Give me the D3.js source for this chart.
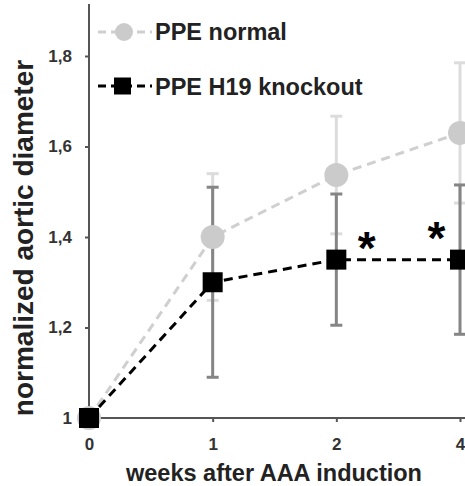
<!DOCTYPE html>
<html><head><meta charset="utf-8">
<script src="https://cdn.jsdelivr.net/npm/d3@7"></script>
<style>body{margin:0;background:#fff}svg{display:block}</style>
</head><body><svg width="465" height="486"></svg>
<script>
const weeks = ["0","1","2","4"];
const normalMean = [1, 1.40, 1.537, 1.63];
const normalErr = [0, 0.14, 0.13, 0.155];
const koMean = [1, 1.30, 1.35, 1.35];
const koErr = [0, 0.21, 0.145, 0.165];
const yTicks = [1, 1.2, 1.4, 1.6, 1.8];
const stars = [{week:"2", offset:0.245, y:1.398}, {week:"4", offset:-0.19, y:1.42}];

const svg = d3.select("svg");
const x = d3.scalePoint().domain(weeks).range([89, 460]);
const y = d3.scaleLinear().domain([1, 1.8]).range([418, 56]);
const step = x.step();
const fmt = d => d === 1 ? "1" : d3.format(".1f")(d).replace(".", ",");
const FF = "Liberation Sans, Arial, sans-serif";

// axes
const axisCol = "#555";
const yAx = svg.append("g").attr("transform","translate(89,0)")
  .call(d3.axisLeft(y).tickValues(yTicks).tickFormat(fmt).tickSize(4).tickPadding(13));
yAx.select(".domain").remove();
svg.append("line").attr("x1",89).attr("x2",89).attr("y1",y(1.915)).attr("y2",y(1))
  .attr("stroke",axisCol).attr("stroke-width",2);
const xAx = svg.append("g").attr("transform","translate(0,418)")
  .call(d3.axisBottom(x).tickSize(4).tickPadding(16));
xAx.select(".domain").remove();
svg.append("line").attr("x1",89).attr("x2",465).attr("y1",418).attr("y2",418)
  .attr("stroke",axisCol).attr("stroke-width",2);
svg.selectAll(".tick line").attr("stroke",axisCol).attr("stroke-width",2);
svg.selectAll(".tick text").attr("font-family",FF)
  .attr("font-weight","bold").attr("font-size",17).attr("fill","#333");

// error bars
function errBars(mean, err, col, w) {
  const g = svg.append("g").attr("stroke",col).attr("stroke-width",w);
  weeks.forEach((k,i) => {
    if (!err[i]) return;
    const cx = x(k), t = y(mean[i]+err[i]), b = y(mean[i]-err[i]);
    g.append("line").attr("x1",cx).attr("x2",cx).attr("y1",t).attr("y2",b);
    g.append("line").attr("x1",cx-6).attr("x2",cx+6).attr("y1",t).attr("y2",t);
    g.append("line").attr("x1",cx-6).attr("x2",cx+6).attr("y1",b).attr("y2",b);
  });
}
errBars(normalMean, normalErr, "#dcdcdc", 3);
errBars(koMean, koErr, "#858585", 3);

const line = d3.line().x((d,i)=>x(weeks[i])).y(d=>y(d));
svg.append("path").datum(normalMean).attr("d",line).attr("fill","none")
  .attr("stroke","#cfcfcf").attr("stroke-width",3).attr("stroke-dasharray","9,6");
svg.selectAll(".nc").data(normalMean).join("circle")
  .attr("cx",(d,i)=>x(weeks[i])).attr("cy",d=>y(d)).attr("r",12).attr("fill","#cbcbcb");
svg.append("path").datum(koMean).attr("d",line).attr("fill","none")
  .attr("stroke","#000").attr("stroke-width",3).attr("stroke-dasharray","9,6");
svg.selectAll(".ks").data(koMean).join("rect")
  .attr("x",(d,i)=>x(weeks[i])-10).attr("y",d=>y(d)-10).attr("width",20).attr("height",20).attr("fill","#000");

// stars
svg.selectAll(".star").data(stars).join("text")
  .attr("x",d=>x(d.week)+d.offset*step).attr("y",d=>y(d.y)+26)
  .attr("text-anchor","middle").attr("font-family",FF)
  .attr("font-weight","bold").attr("font-size",46).text("*");

// legend
const leg = [{t:"PPE normal",c:"#cbcbcb",shape:"c",ly:32,by:40},{t:"PPE H19 knockout",c:"#000",shape:"s",ly:86,by:95}];
leg.forEach(l => {
  svg.append("line").attr("x1",98).attr("x2",152).attr("y1",l.ly).attr("y2",l.ly)
    .attr("stroke",l.shape==="c"?"#cfcfcf":"#000").attr("stroke-width",3).attr("stroke-dasharray","8,5");
  if (l.shape==="c") svg.append("circle").attr("cx",124).attr("cy",l.ly).attr("r",9).attr("fill",l.c);
  else svg.append("rect").attr("x",114).attr("y",l.ly-8.5).attr("width",17).attr("height",17).attr("fill",l.c);
  svg.append("text").attr("x",155).attr("y",l.by).attr("font-family",FF)
    .attr("font-weight","bold").attr("font-size",23.5).attr("fill","#222").text(l.t);
});

// axis titles
svg.append("text").attr("transform","translate(33,238) rotate(-90)").attr("text-anchor","middle")
  .attr("font-family",FF).attr("font-weight","bold")
  .attr("font-size",28).attr("fill","#222").text("normalized aortic diameter");
svg.append("text").attr("x",274).attr("y",481).attr("text-anchor","middle")
  .attr("font-family",FF).attr("font-weight","bold")
  .attr("font-size",23.5).attr("fill","#222").text("weeks after AAA induction");
</script></body></html>
